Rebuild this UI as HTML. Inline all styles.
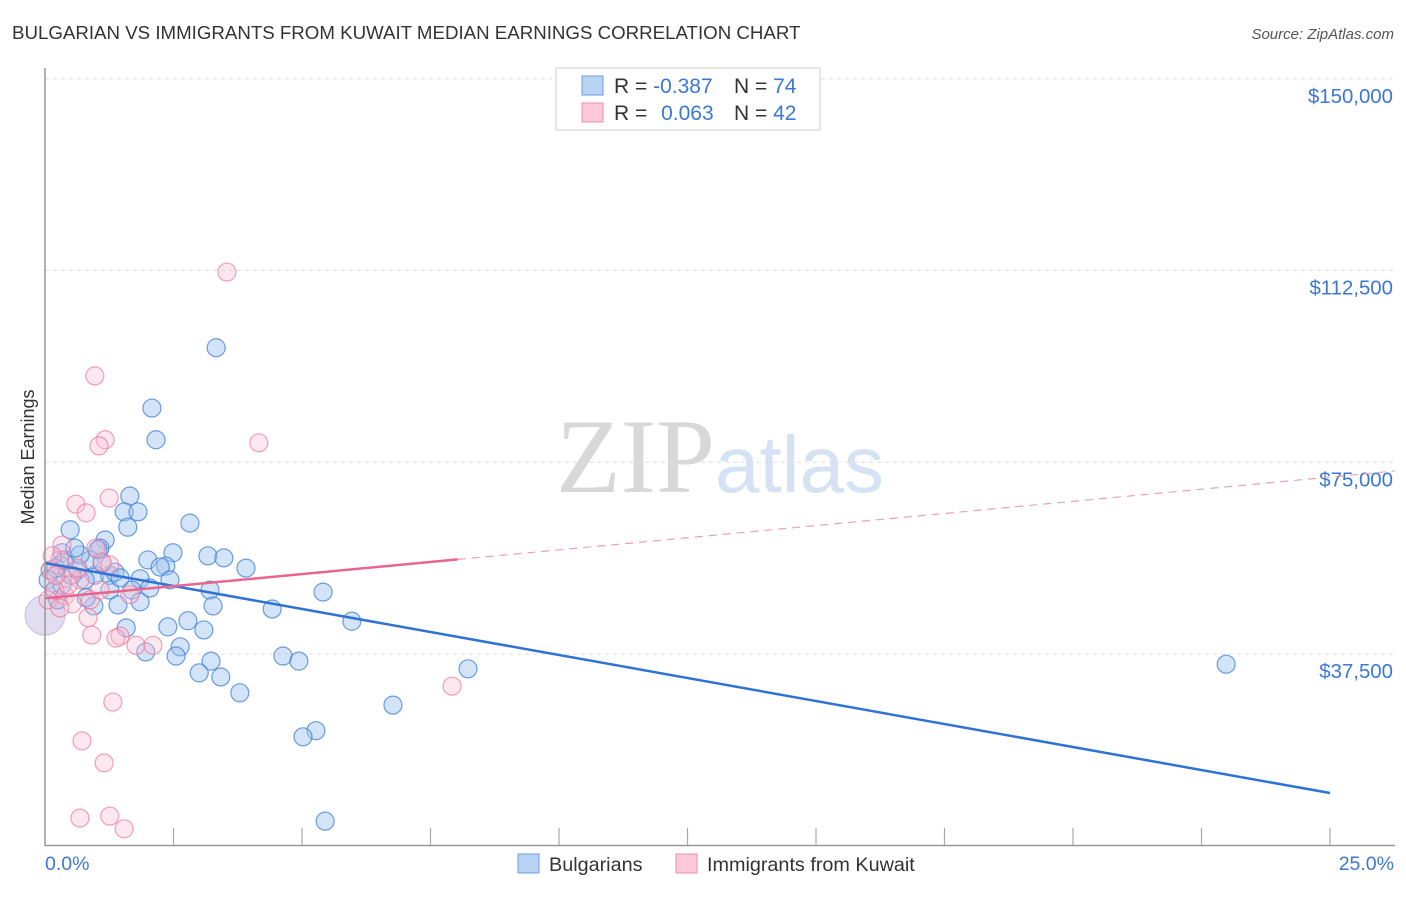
<!DOCTYPE html>
<html><head><meta charset="utf-8"><style>
body{margin:0;background:#fff;font-family:"Liberation Sans",sans-serif;}
svg text{font-family:"Liberation Sans",sans-serif;}
</style></head><body>
<svg id="c" width="1406" height="892" xmlns="http://www.w3.org/2000/svg">
<text x="12" y="39" font-size="18.7" fill="#333">BULGARIAN VS IMMIGRANTS FROM KUWAIT MEDIAN EARNINGS CORRELATION CHART</text>
<text x="1394" y="39" font-size="15" fill="#555" font-style="italic" text-anchor="end">Source: ZipAtlas.com</text>
<text x="34" y="457" font-size="18" fill="#333" text-anchor="middle" transform="rotate(-90 34 457)">Median Earnings</text>
<text x="720" y="492" font-size="106" fill="#ddd" text-anchor="middle" font-family="Liberation Serif"><tspan fill="#d8d8d8" font-family="Liberation Serif">ZIP</tspan><tspan fill="#d4e2f4" font-size="80">atlas</tspan></text>
<g id="grid"></g><g id="pts"></g><g id="lines"></g>
<line x1="45" y1="68" x2="45" y2="846" stroke="#999" stroke-width="1.5"/>
<line x1="45" y1="845.5" x2="1395" y2="845.5" stroke="#999" stroke-width="1.5"/>
<text x="45" y="870" font-size="19.5" fill="#3a78d4">0.0%</text>
<text x="1394" y="870" font-size="19.5" fill="#3a78d4" text-anchor="end">25.0%</text>
<g>
<rect x="556" y="68" width="264" height="62" fill="#fff" stroke="#ccc"/>
<rect x="582" y="76" width="21" height="19" fill="#b9d3f5" stroke="#6b9ee0"/>
<rect x="582" y="103" width="21" height="19" fill="#fcc9d8" stroke="#ee90ac"/>
<text x="614" y="93" font-size="21" fill="#333">R = <tspan fill="#3a78d4">-0.387</tspan></text>
<text x="734" y="93" font-size="21" fill="#333">N = <tspan fill="#3a78d4">74</tspan></text>
<text x="614" y="120" font-size="21" fill="#333">R = <tspan fill="#3a78d4" dx="8">0.063</tspan></text>
<text x="734" y="120" font-size="21" fill="#333">N = <tspan fill="#3a78d4">42</tspan></text>
</g>
<g>
<rect x="518" y="854" width="21" height="19" fill="#b9d3f5" stroke="#6b9ee0"/>
<text x="549" y="871" font-size="19.8" fill="#333">Bulgarians</text>
<rect x="676" y="854" width="21" height="19" fill="#fcc9d8" stroke="#ee90ac"/>
<text x="707" y="871" font-size="19.8" fill="#333">Immigrants from Kuwait</text>
</g>
</svg>
<script>
const yTicks=[37500,75000,112500,150000];
const yTickLabels=["$37,500","$75,000","$112,500","$150,000"];
const xTicks=[0,2.5,5,7.5,10,12.5,15,17.5,20,22.5,25];
const blueX=[3.33,2.08,2.16,1.65,1.54,1.81,2.82,0.49,1.61,1.17,1.07,0.33,2.49,2.00,2.35,3.17,3.48,3.91,0.29,0.64,0.97,1.26,1.36,1.85,2.24,0.10,0.21,0.78,3.21,1.26,1.69,1.85,1.42,0.95,3.27,4.42,5.41,5.97,1.58,2.39,2.78,3.09,2.63,1.96,2.55,3.23,3.00,3.42,4.63,4.94,3.79,8.23,6.77,5.27,5.02,5.45,22.98,0.53,0.06,0.39,0.88,0.68,1.11,1.46,2.04,2.43,0.25,0.19,0.80,0.58,0.33,1.03];
const blueY=[97.4,85.6,79.4,68.4,65.3,65.3,63.1,61.8,62.3,59.8,58.2,57.3,57.3,55.9,54.7,56.7,56.3,54.3,54.9,53.9,52.9,52.9,53.5,52.2,54.5,53.9,54.3,52.0,50.0,50.0,50.0,47.7,47.1,46.9,46.9,46.3,49.6,43.9,42.6,42.8,44.0,42.2,38.9,37.9,37.1,36.1,33.8,33.0,37.1,36.1,29.9,34.6,27.5,22.5,21.3,4.8,35.5,52.9,52.0,55.9,55.9,56.9,55.3,52.4,50.4,52.0,48.1,50.0,48.5,58.2,51.0,57.9];
const pinkX=[3.54,0.97,1.17,1.05,4.16,1.25,0.60,0.80,0.99,1.11,0.29,0.10,0.49,0.68,0.19,0.39,0.53,0.88,0.06,0.29,0.84,0.91,1.46,1.38,1.77,2.10,7.92,1.32,0.72,1.15,1.26,0.68,1.54,1.65,1.07,0.64,0.45,0.21,1.26,0.33,0.14];
const pinkY=[112.2,91.9,79.4,78.2,78.8,68.0,66.8,65.1,58.2,55.5,55.9,53.9,52.9,52.0,50.0,48.9,47.3,48.1,48.1,46.5,44.6,41.2,41.0,40.6,39.2,39.2,31.2,28.1,20.5,16.2,5.8,5.4,3.3,49.1,50.0,54.3,51.0,52.9,54.9,58.8,56.7];
const bigX=[0.0], bigY=[45.1];
const blueTrend=[[0,55.3],[25,10.3]];
const pinkTrend=[[0,48.4],[8.03,56.0]];
const pinkTrendDash=[[8.03,56.0],[26.26,73.3]];
const NS="http://www.w3.org/2000/svg";
const sx=v=>45+v*51.4;
const sy=v=>845.7-v/0.1956;
function mk(tag,a,parent){const e=document.createElementNS(NS,tag);for(const k in a)e.setAttribute(k,a[k]);document.getElementById(parent).appendChild(e);return e;}
yTicks.forEach((t,i)=>{
 const y=sy(t/1000);
 const l=mk('line',{x1:45,x2:1395,y1:y,y2:y,stroke:'#ddd','stroke-dasharray':'4,4'},'grid');
 
 
 const tx=mk('text',{x:1393,y:y+24,'font-size':20.4,fill:'#3a78d4','text-anchor':'end'},'grid');
 tx.textContent=yTickLabels[i];
 
 
});
xTicks.forEach(t=>{
 if(t===0)return;
 const x=sx(t);
 const l=mk('line',{x1:x,x2:x,y1:828,y2:845,stroke:'#aaa','stroke-width':1.2},'grid');
 
 
});
{const c=mk('circle',{cx:sx(bigX[0]),cy:sy(bigY[0]),r:20,fill:'rgba(190,180,225,0.45)',stroke:'rgba(150,150,210,0.5)'},'pts');

}
blueX.forEach((x,i)=>{
 const c=mk('circle',{cx:sx(x),cy:sy(blueY[i]),r:9,fill:'rgba(160,196,240,0.45)',stroke:'rgba(60,125,215,0.75)','stroke-width':1.2},'pts');
 
 
});
pinkX.forEach((x,i)=>{
 const c=mk('circle',{cx:sx(x),cy:sy(pinkY[i]),r:9,fill:'rgba(250,190,210,0.35)',stroke:'rgba(235,120,155,0.7)','stroke-width':1.2},'pts');
 
 
});
function ln(p,attrs,name){const l=mk('line',Object.assign({x1:sx(p[0][0]),y1:sy(p[0][1]),x2:sx(p[1][0]),y2:sy(p[1][1])},attrs),'lines');}
ln(blueTrend,{stroke:'#2f72d6','stroke-width':2.5},'bulgarian-trendline');
ln(pinkTrend,{stroke:'#e8658f','stroke-width':2.5},'kuwait-trendline');
ln(pinkTrendDash,{stroke:'#eaa0b8','stroke-width':1.2,'stroke-dasharray':'8,6'},'kuwait-trendline-extension');
</script>
</body></html>
